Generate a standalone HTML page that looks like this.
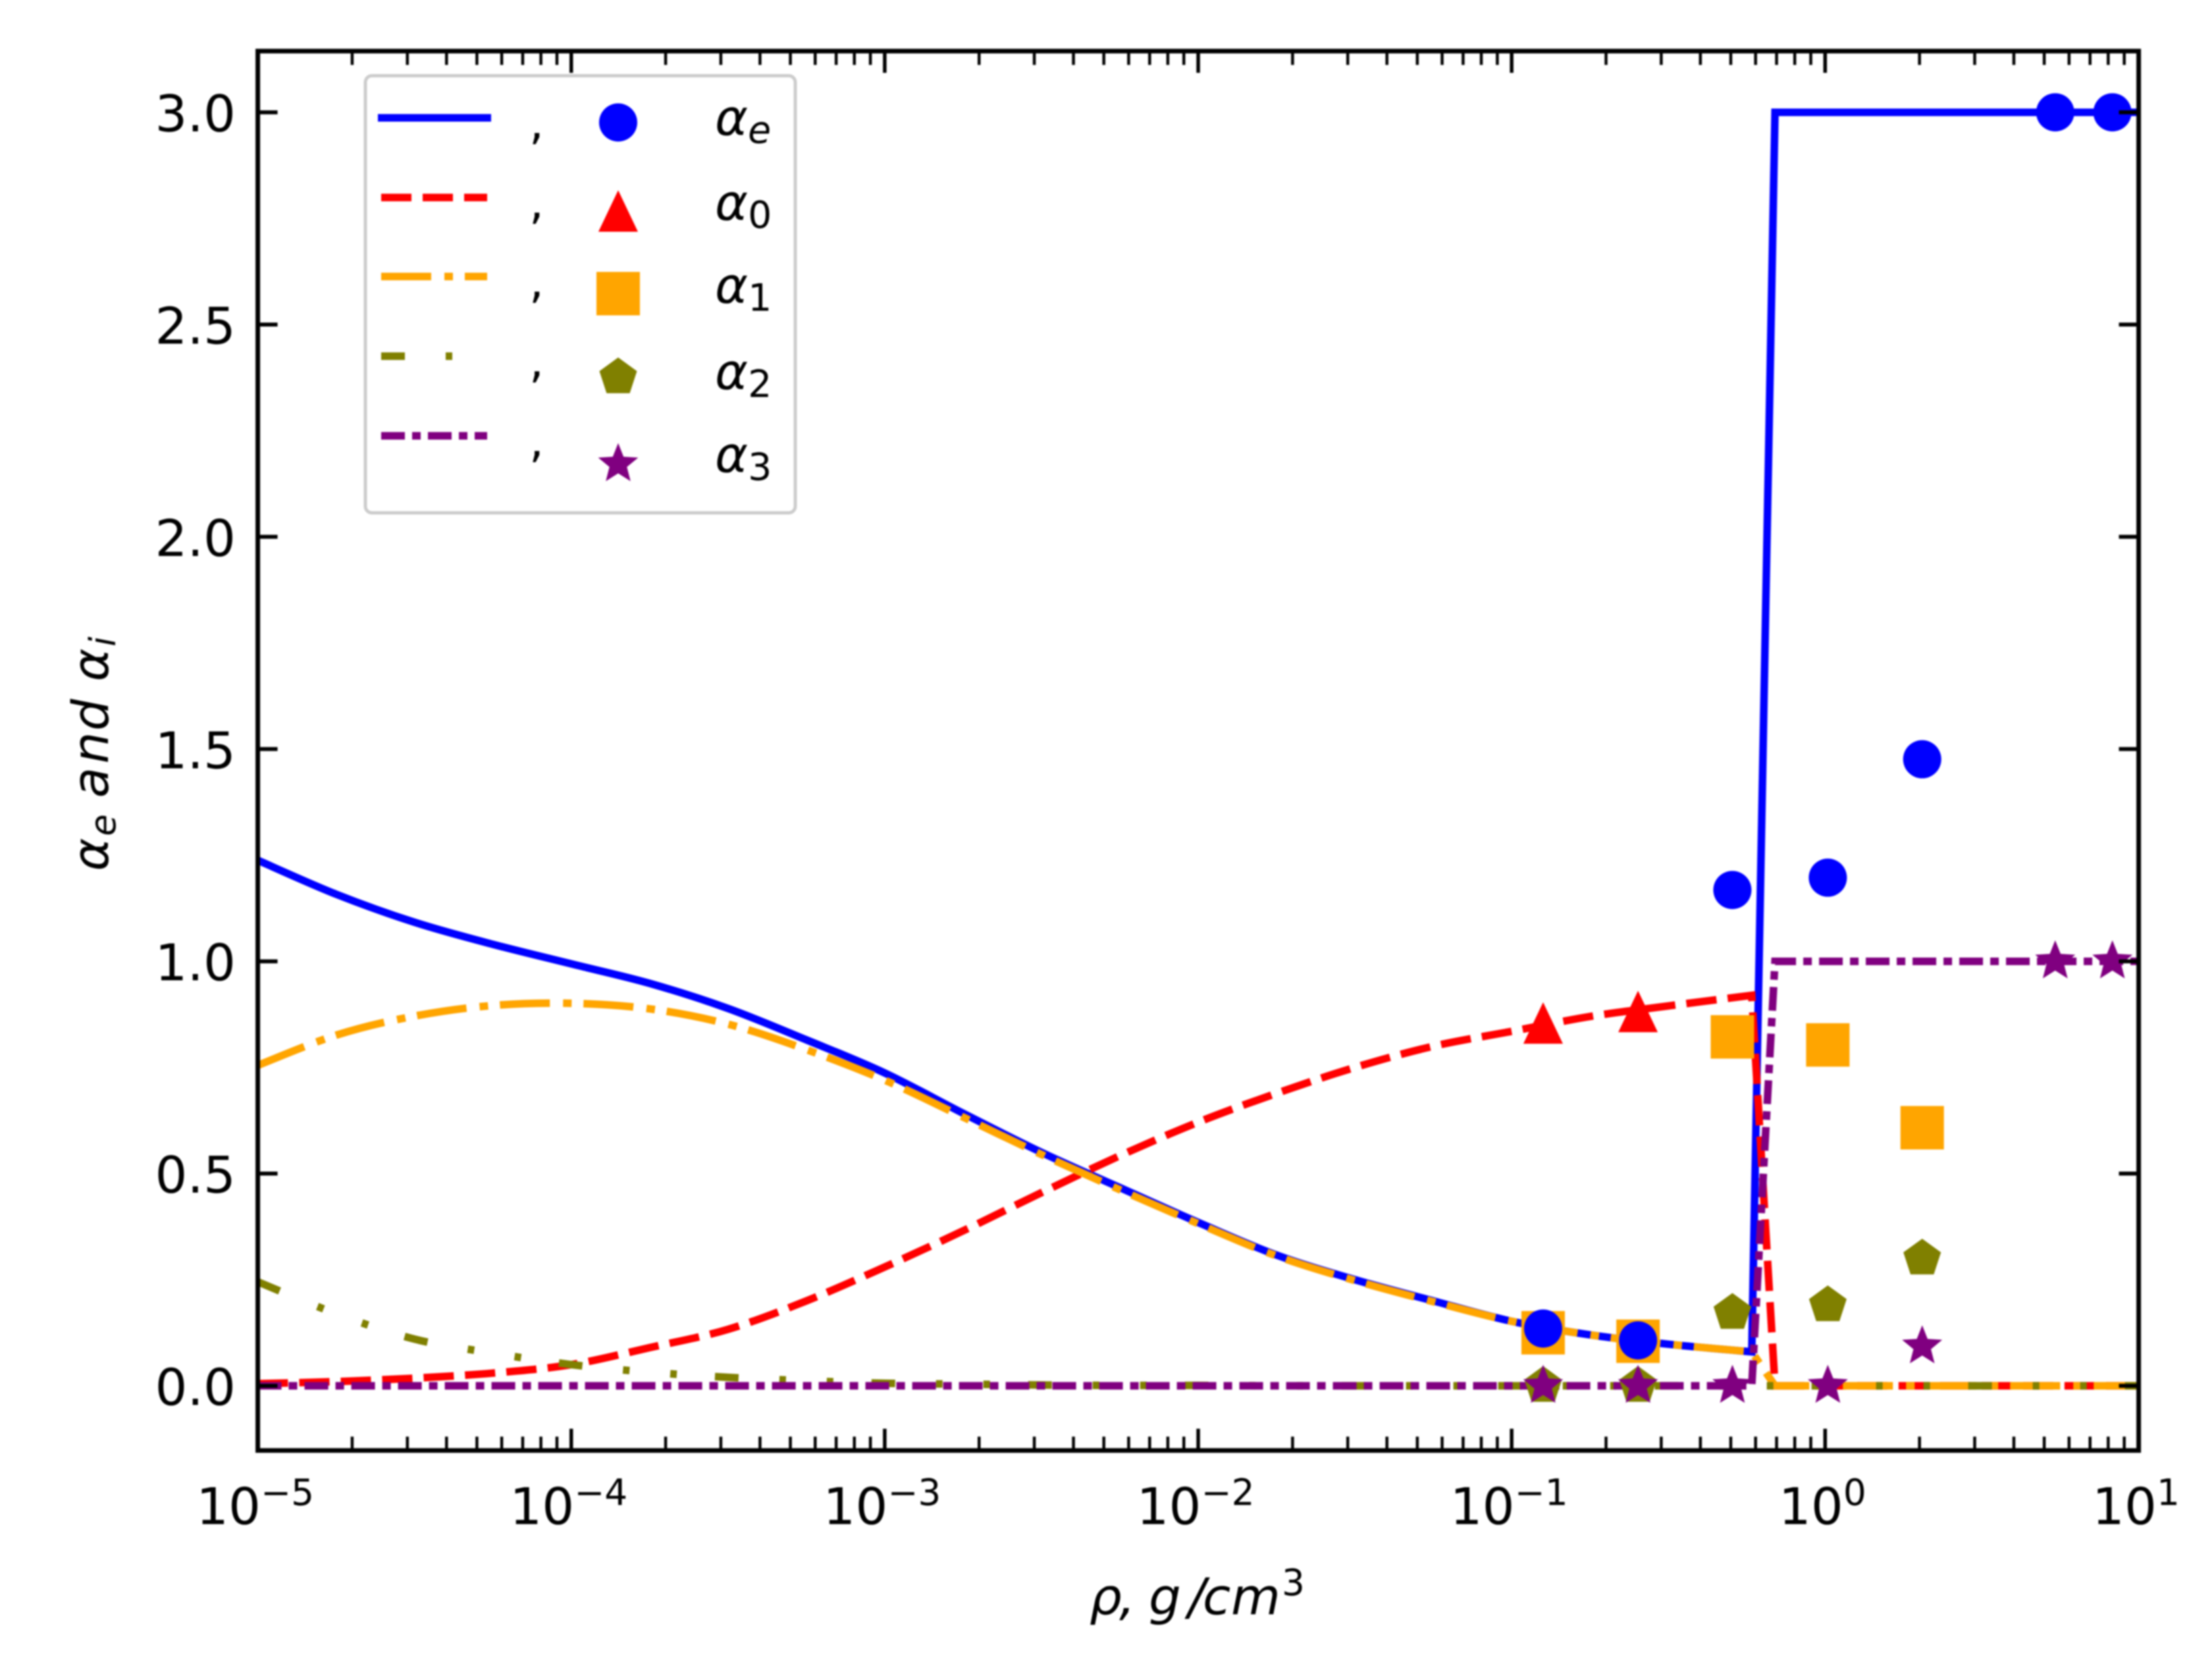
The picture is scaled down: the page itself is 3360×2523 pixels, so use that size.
<!DOCTYPE html>
<html>
<head>
<meta charset="utf-8">
<title>alpha vs density</title>
<style>
html,body{margin:0;padding:0;background:#fff;width:3360px;height:2523px;overflow:hidden}
svg{display:block;filter:blur(1.2px)}
text{font-family:"DejaVu Sans","Liberation Sans",sans-serif;fill:#000}
.it{font-style:italic}
</style>
</head>
<body>
<svg id="chart" xmlns="http://www.w3.org/2000/svg" width="3360" height="2523" viewBox="0 0 3360 2523">
  <rect width="3360" height="2523" fill="#fff"/>
  <defs><clipPath id="plotClip"><rect x="392" y="78" width="2857" height="2125"/></clipPath></defs>
  <g id="lines" clip-path="url(#plotClip)" fill="none"></g>
  <g id="markers" clip-path="url(#plotClip)"></g>
  <g id="ticks"></g>
  <rect x="391.6" y="77.6" width="2857" height="2125.6" fill="none" stroke="#000" stroke-width="7"/>
  <g id="ticklabels"></g>

  <text class="it" y="2452" font-size="77"><tspan x="1655 1700 1725 1745 1805 1827 1870">ρ, g/cm</tspan><tspan x="1947" y="2423" font-size="55" style="font-style:normal">3</tspan></text>

  <g transform="translate(164 1323) rotate(-90)">
    <text class="it" y="0" font-size="76"><tspan x="0">α</tspan><tspan x="53" y="11" font-size="54">e</tspan><tspan x="111 163 213" y="0">and</tspan><tspan x="288" y="0">α</tspan><tspan x="341" y="11" font-size="54">i</tspan></text>
  </g>

  <g>
    <rect x="555" y="115" width="653" height="664" rx="10" ry="10" fill="#fff" fill-opacity="0.8" stroke="#ccc" stroke-width="5"/>
    <g id="legendEntries"></g>
  </g>
</svg>
<script>
// ---- chart data ----
const logRho = [-5,-4.75,-4.5,-4.25,-4,-3.75,-3.5,-3.25,-3,-2.75,-2.5,-2.25,-2,-1.75,-1.5,-1.25,-1,-0.75,-0.5,-0.234,-0.16,1];
const alphaE = [1.238,1.158,1.092,1.04,0.994,0.948,0.889,0.815,0.737,0.642,0.55,0.467,0.385,0.308,0.25,0.2,0.152,0.12,0.098,0.08,3,3];
const alpha0 = [0.005,0.01,0.018,0.03,0.05,0.09,0.133,0.2,0.28,0.365,0.455,0.542,0.621,0.689,0.75,0.8,0.835,0.87,0.895,0.92,0,0];
const alpha1 = [0.755,0.826,0.871,0.896,0.901,0.888,0.852,0.792,0.72,0.633,0.545,0.462,0.382,0.306,0.248,0.198,0.152,0.12,0.098,0.08,0,0];
const alpha2 = [0.245,0.17,0.11,0.077,0.05,0.032,0.02,0.012,0.006,0.004,0.002,0.001,0.001,0,0,0,0,0,0,0,0,0];
const alpha3 = [0,0,0,0,0,0,0,0,0,0,0,0,0,0,0,0,0,0,0,0,1,1];

const rhoPoints = [0.126,0.253,0.506,1.02,2.04,5.42,8.25];
const pointsE = [0.135,0.107,1.168,1.197,1.476,3,3];
const rhoPoints0 = [0.126,0.253];
const points0 = [0.854,0.881];
const rhoPoints1 = [0.126,0.253,0.506,1.02,2.04];
const points1 = [0.125,0.105,0.822,0.803,0.608];
const rhoPoints2 = [0.126,0.253,0.506,1.02,2.04];
const points2 = [0,0,0.172,0.19,0.3];
const points3 = [0,0,0,0,0.093,1,1];

const yTickValues = [0,0.5,1,1.5,2,2.5,3];
const yTickLabels = ['0.0','0.5','1.0','1.5','2.0','2.5','3.0'];
const xTickExponents = [-5,-4,-3,-2,-1,0,1];
const xTickLabels = ['−5','−4','−3','−2','−1','0','1'];
const minorMultipliers = [2,3,4,5,6,7,8,9];

// ---- axis functions ----
function xLog(l){ return 391.6 + (l + 5) * 476.15; }
function xVal(v){ return xLog(Math.log10(v)); }
function yVal(v){ return 2105 - v * 644.8; }

const NS = 'http://www.w3.org/2000/svg';
function mk(tag, parent){ const e = document.createElementNS(NS, tag); parent.appendChild(e); return e; }

// smooth path through the read points, straight across the jump at the end
function seriesPath(vals){
  const P = logRho.map(function(l, i){ return [xLog(l), yVal(vals[i])]; });
  const smoothEnd = 19;
  let d = 'M' + P[0][0].toFixed(1) + ' ' + P[0][1].toFixed(1);
  for (let i = 0; i < smoothEnd; i++){
    const p0 = P[Math.max(0, i - 1)], p1 = P[i], p2 = P[i + 1], p3 = P[Math.min(smoothEnd, i + 2)];
    const c1x = p1[0] + (p2[0] - p0[0]) / 6, c1y = p1[1] + (p2[1] - p0[1]) / 6;
    const c2x = p2[0] - (p3[0] - p1[0]) / 6, c2y = p2[1] - (p3[1] - p1[1]) / 6;
    d += 'C' + c1x.toFixed(1) + ' ' + c1y.toFixed(1) + ' ' + c2x.toFixed(1) + ' ' + c2y.toFixed(1) + ' ' + p2[0].toFixed(1) + ' ' + p2[1].toFixed(1);
  }
  for (let i = smoothEnd + 1; i < P.length; i++){
    d += 'L' + P[i][0].toFixed(1) + ' ' + P[i][1].toFixed(1);
  }
  return d;
}

// ---- marker shapes ----
function polyPts(cx, cy, n, r, inner){
  const pts = [];
  const count = inner ? n * 2 : n;
  for (let i = 0; i < count; i++){
    const rad = inner && i % 2 ? inner : r;
    const a = -Math.PI / 2 + i * 2 * Math.PI / count;
    pts.push((cx + rad * Math.cos(a)).toFixed(1) + ',' + (cy + rad * Math.sin(a)).toFixed(1));
  }
  return pts.join(' ');
}
function drawMarker(parent, type, cx, cy, color){
  let e;
  if (type === 'circle'){
    e = mk('circle', parent);
    e.setAttribute('cx', cx); e.setAttribute('cy', cy); e.setAttribute('r', 29);
  } else if (type === 'square'){
    e = mk('rect', parent);
    e.setAttribute('x', cx - 33); e.setAttribute('y', cy - 33);
    e.setAttribute('width', 66); e.setAttribute('height', 66);
  } else if (type === 'triangle'){
    e = mk('polygon', parent);
    e.setAttribute('points', cx + ',' + (cy - 32) + ' ' + (cx - 30) + ',' + (cy + 31) + ' ' + (cx + 30) + ',' + (cy + 31));
  } else if (type === 'pentagon'){
    e = mk('polygon', parent);
    e.setAttribute('points', polyPts(cx, cy, 5, 30));
  } else {
    e = mk('polygon', parent);
    e.setAttribute('points', polyPts(cx, cy, 5, 32, 14));
  }
  e.setAttribute('fill', color);
  return e;
}

// ---- series lines ----
const lineGroup = document.getElementById('lines');
const lineSeries = [
  {n:'line-alpha-e', v:alphaE, c:'#0000ff', d:''},
  {n:'line-alpha-0', v:alpha0, c:'#ff0000', d:'46 17'},
  {n:'line-alpha-1', v:alpha1, c:'#ffa500', d:'76 20 13 18'},
  {n:'line-alpha-2', v:alpha2, c:'#808000', d:'36 62 10 62 10 58'},
  {n:'line-alpha-3', v:alpha3, c:'#800080', d:'36 11 13 11'}
];
lineSeries.forEach(function(s){
  const p = mk('path', lineGroup);
  
  
  p.setAttribute('d', seriesPath(s.v));
  p.setAttribute('stroke', s.c);
  p.setAttribute('stroke-width', 11.5);
  p.setAttribute('stroke-linejoin', 'miter');
  if (s.d) p.setAttribute('stroke-dasharray', s.d);
});

// ---- series markers ----
const markerGroup = document.getElementById('markers');
const markerSeries = [
  {n:'point-alpha-0', t:'triangle', c:'#ff0000', x:rhoPoints0, y:points0},
  {n:'point-alpha-1', t:'square', c:'#ffa500', x:rhoPoints1, y:points1},
  {n:'point-alpha-2', t:'pentagon', c:'#808000', x:rhoPoints2, y:points2},
  {n:'point-alpha-3', t:'star', c:'#800080', x:rhoPoints, y:points3},
  {n:'point-alpha-e', t:'circle', c:'#0000ff', x:rhoPoints, y:pointsE}
];
markerSeries.forEach(function(s){
  s.x.forEach(function(v, i){
    const m = drawMarker(markerGroup, s.t, xVal(v), yVal(s.y[i]), s.c);
    
    
  });
});

// ---- ticks ----
const tickGroup = document.getElementById('ticks');
function tick(x1, y1, x2, y2, w){
  const l = mk('line', tickGroup);
  
  
  l.setAttribute('x1', x1); l.setAttribute('y1', y1);
  l.setAttribute('x2', x2); l.setAttribute('y2', y2);
  l.setAttribute('stroke', '#000');
  l.setAttribute('stroke-width', w);
}
const TOP = 77.6, BOTTOM = 2203.2, LEFT = 391.6, RIGHT = 3248.6;
xTickExponents.forEach(function(ex){
  const x = xLog(ex);
  if (ex > -5 && ex < 1){
    tick(x, BOTTOM, x, BOTTOM - 33, 5.5);
    tick(x, TOP, x, TOP + 33, 5.5);
  }
  if (ex < 1){
    minorMultipliers.forEach(function(m){
      const xm = xLog(ex + Math.log10(m));
      tick(xm, BOTTOM, xm, BOTTOM - 21, 4.5);
      tick(xm, TOP, xm, TOP + 21, 4.5);
    });
  }
});
yTickValues.forEach(function(v){
  const y = yVal(v);
  tick(LEFT, y, LEFT + 30, y, 6);
  tick(RIGHT, y, RIGHT - 30, y, 6);
});

// ---- tick labels ----
const labelGroup = document.getElementById('ticklabels');
yTickValues.forEach(function(v, i){
  const t = mk('text', labelGroup);
  
  
  t.setAttribute('x', 358);
  t.setAttribute('y', yVal(v) + 29);
  t.setAttribute('font-size', 77);
  t.setAttribute('text-anchor', 'end');
  t.textContent = yTickLabels[i];
});
xTickExponents.forEach(function(ex, i){
  const cx = xLog(ex);
  const t = mk('text', labelGroup);
  
  
  t.setAttribute('y', 2315);
  t.setAttribute('font-size', 77);
  t.setAttribute('text-anchor', 'middle');
  t.setAttribute('x', cx - 4);
  const base = mk('tspan', t);
  base.textContent = '10';
  const sup = mk('tspan', t);
  sup.setAttribute('font-size', 55);
  sup.setAttribute('dy', -29);
  sup.textContent = xTickLabels[i];
});

// ---- legend ----
const legendGroup = document.getElementById('legendEntries');
const legendLabels = ['e','0','1','2','3'];
const legendLineY = [179,300,420,541,662];
const legendMarkerY = [186,321,446,573,705];
const legendTextY = [205,334,460,591,717];
lineSeries.forEach(function(s, i){
  const ln = mk('line', legendGroup);
  
  
  ln.setAttribute('x1', i === 0 ? 574 : 579);
  ln.setAttribute('x2', i === 0 ? 746 : 740);
  ln.setAttribute('y1', legendLineY[i]);
  ln.setAttribute('y2', legendLineY[i]);
  ln.setAttribute('stroke', s.c);
  ln.setAttribute('stroke-width', 11.5);
  if (s.d) ln.setAttribute('stroke-dasharray', s.d);

  const comma = mk('text', legendGroup);
  
  
  comma.setAttribute('x', 815);
  comma.setAttribute('y', legendLineY[i] + 32);
  comma.setAttribute('font-size', 70);
  comma.setAttribute('text-anchor', 'middle');
  comma.textContent = ',';

  const types = ['circle','triangle','square','pentagon','star'];
  const mark = drawMarker(legendGroup, types[i], 939, legendMarkerY[i], s.c);
  
  

  const tx = mk('text', legendGroup);
  
  
  tx.setAttribute('class', 'it');
  tx.setAttribute('x', 1086);
  tx.setAttribute('y', legendTextY[i]);
  tx.setAttribute('font-size', 76);
  const a = mk('tspan', tx);
  a.textContent = 'α';
  const sub = mk('tspan', tx);
  sub.setAttribute('font-size', 57);
  sub.setAttribute('dy', 12);
  if (i > 0) sub.setAttribute('style', 'font-style:normal');
  sub.textContent = legendLabels[i];
});
</script>
</body>
</html>
